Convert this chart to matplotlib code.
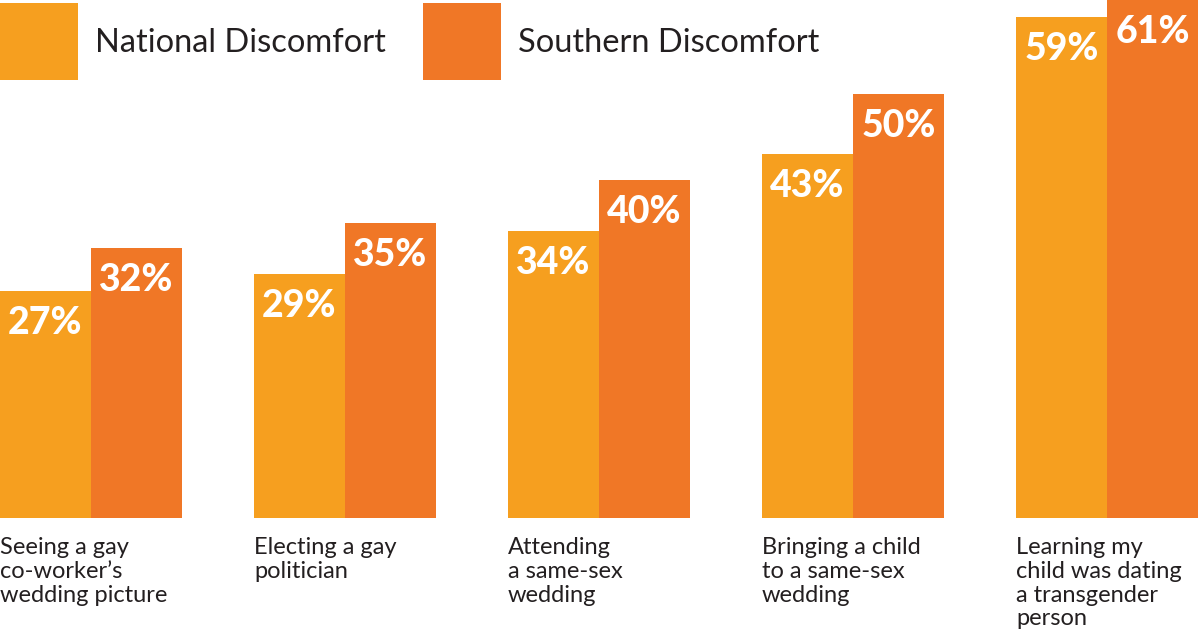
import matplotlib.pyplot as plt
from matplotlib.patches import Rectangle
import numpy as np

categorias = ["Seeing a gay\nco-worker\u2019s\nwedding picture",
              "Electing a gay\npolitician",
              "Attending\na same-sex\nwedding",
              "Bringing a child\nto a same-sex\nwedding",
              "Learning my\nchild was dating\na transgender\nperson"]
nacional = [27, 29, 34, 43, 59]
sul = [32, 35, 40, 50, 61]
series = ["National Discomfort", "Southern Discomfort"]

cor_nacional = '#F69F1F'
cor_sul = '#F07726'

W, H = 1200, 641
fig = plt.figure(figsize=(W / 100, H / 100), dpi=100)

# eixo ocupa de y=0 ate y=518 px (base das barras)
base_px = 518
ax = fig.add_axes([0, (H - base_px) / H, 1, base_px / H])
px_por_pct = 8.56
ax.set_ylim(0.5, 0.5 + base_px / px_por_pct)
passo = 254.0
largura = 91 / passo
ax.set_xlim(-91 / passo, (W - 91) / passo)
ax.axis('off')

x = np.arange(len(categorias))
b1 = ax.bar(x - largura / 2, nacional, width=largura, color=cor_nacional, linewidth=0)
b2 = ax.bar(x + largura / 2, sul, width=largura, color=cor_sul, linewidth=0)

for barras, valores in [(b1, nacional), (b2, sul)]:
    for barra, v in zip(barras, valores):
        ax.annotate(f"{v}%", (barra.get_x() + barra.get_width() / 2, v),
                    xytext=(0, -23), textcoords='offset points',
                    ha='center', va='center', color='white',
                    fontsize=27, fontweight='black', family='Lato')

for i, cat in enumerate(categorias):
    ax.annotate(cat, (i - largura, 0.5), xytext=(0, -14), textcoords='offset points',
                ha='left', va='top', fontsize=17, family='Lato',
                color='#231F20', linespacing=1.15, annotation_clip=False)

# legenda
for x0, cor, nome in [(0, cor_nacional, series[0]), (423, cor_sul, series[1])]:
    fig.patches.append(Rectangle((x0 / W, 1 - 80 / H), 78 / W, 77 / H,
                                 transform=fig.transFigure, color=cor, linewidth=0))
    fig.text((x0 + 95) / W, 1 - 43 / H, nome, ha='left', va='center',
             fontsize=23.5, family='Lato', color='#231F20')

fig.savefig('out.png', dpi=100)
